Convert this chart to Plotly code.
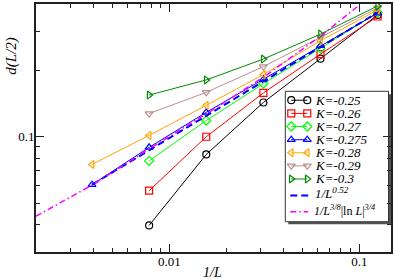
import math
import plotly.graph_objects as go

# ---------------- data ----------------
inv_L = [1/256, 1/128, 1/64, 1/32, 1/16, 1/8]

k_labels = ["K=-0.25", "K=-0.26", "K=-0.27", "K=-0.275", "K=-0.28", "K=-0.29", "K=-0.3"]
d_k025 = [None, 0.0396, 0.0831, 0.143, 0.226, 0.357]
d_k026 = [None, 0.0569, 0.100, 0.158, 0.237, 0.351]
d_k027 = [None, 0.0777, 0.1185, 0.174, 0.252, 0.366]
d_k0275 = [0.0606, 0.0895, 0.129, 0.182, 0.259, 0.364]
d_k028 = [0.0749, 0.1014, 0.1388, 0.1915, 0.2725, 0.376]
d_k029 = [None, 0.1274, 0.159, 0.208, 0.283, 0.384]
d_k030 = [None, 0.1545, 0.181, 0.225, 0.292, 0.392]

fit1_x = [1/256, 1/8]
fit1_y = [0.0606, 0.366]
fit2_x = [0.00198, 1/256, 1/128, 1/64, 1/32, 1/16, 0.1]
fit2_y = [0.0436, 0.0603, 0.088, 0.127, 0.186, 0.286, 0.395]

x_ticks = [0.01, 0.1]
x_ticktext = ["0.01", "0.1"]
y_ticks = [0.1]
y_ticktext = ["0.1"]

# ---------------- styling ----------------
W, H = 395, 279
PL, PR, PT, PB = 36, 392, 2, 252   # plot area in pixels
FONT = "Liberation Serif"
AX = "#222222"

colors = ["#000000", "#ff0000", "#00ff00", "#0000ff", "#ffa500", "#bc8f8f", "#008b00"]
symbols = ["circle-open", "square-open", "diamond-open", "triangle-up-open",
           "triangle-left-open", "triangle-down-open", "triangle-right-open"]
series = [d_k025, d_k026, d_k027, d_k0275, d_k028, d_k029, d_k030]

fig = go.Figure()
for lab, ys, c, s in zip(k_labels, series, colors, symbols):
    xs = [x for x, y in zip(inv_L, ys) if y is not None]
    yv = [y for y in ys if y is not None]
    fig.add_trace(go.Scatter(x=xs, y=yv, mode="lines+markers", name=lab,
                             line=dict(color=c, width=1),
                             marker=dict(symbol=s, size=7, color=c, line=dict(color=c, width=1.2)),
                             showlegend=False))

fig.add_trace(go.Scatter(x=fit1_x, y=fit1_y, mode="lines", showlegend=False,
                         line=dict(color="#0000ff", width=2, dash="7px,4px")))
fig.add_trace(go.Scatter(x=fit2_x, y=fit2_y, mode="lines", showlegend=False,
                         line=dict(color="#ff00ff", width=1.5, dash="6px,3px,1.5px,3px")))

# ---------------- hand-made legend (Grace style) ----------------
def fx(px):
    return (px - PL) / (PR - PL)

def fy(py):
    return (PB - py) / (PB - PT)

row_y = [99, 112.3, 125.5, 138.8, 152, 165.2, 178.4]
for lab, c, s, ry in zip(k_labels, colors, symbols, row_y):
    fig.add_trace(go.Scatter(x=[fx(292), fx(308)], y=[fy(ry), fy(ry)], xaxis="x2", yaxis="y2",
                             mode="lines+markers", showlegend=False, hoverinfo="skip",
                             line=dict(color=c, width=1),
                             marker=dict(symbol=s, size=7, color=c, line=dict(color=c, width=1.2))))
    fig.add_annotation(xref="paper", yref="paper", x=fx(315), y=fy(ry), xanchor="left",
                       yanchor="middle", text="<i>" + lab + "</i>", showarrow=False,
                       font=dict(family=FONT, size=13, color="black"), borderpad=0)

fig.add_trace(go.Scatter(x=[fx(291), fx(309)], y=[fy(195), fy(195)], xaxis="x2", yaxis="y2",
                         mode="lines", showlegend=False, hoverinfo="skip",
                         line=dict(color="#0000ff", width=2, dash="7px,4px")))
fig.add_trace(go.Scatter(x=[fx(291), fx(309)], y=[fy(211.5), fy(211.5)], xaxis="x2", yaxis="y2",
                         mode="lines", showlegend=False, hoverinfo="skip",
                         line=dict(color="#ff00ff", width=1.5, dash="6px,3px,1.5px,3px")))
fig.add_annotation(xref="paper", yref="paper", x=fx(315), y=fy(202), xanchor="left",
                   yanchor="bottom", text="<i>1/L</i><sup><i>0.52</i></sup>", showarrow=False,
                   font=dict(family=FONT, size=13, color="black"), borderpad=0)
fig.add_annotation(xref="paper", yref="paper", x=fx(314), y=fy(219), xanchor="left",
                   yanchor="bottom",
                   text="<i>1/L</i><sup><i>3/8</i></sup>|ln <i>L</i>|<sup><i>3/4</i></sup>",
                   showarrow=False, font=dict(family=FONT, size=12, color="black"), borderpad=0)

# legend box + shadow
fig.add_shape(type="rect", xref="paper", yref="paper", layer="below",
              x0=fx(289), x1=fx(392), y0=fy(224), y1=fy(93),
              fillcolor="#555555", line=dict(width=0))
fig.add_shape(type="rect", xref="paper", yref="paper", layer="below",
              x0=fx(286), x1=fx(389.5), y0=fy(221.5), y1=fy(90),
              fillcolor="white", line=dict(color="#333333", width=1))

# axis titles
fig.add_annotation(xref="paper", yref="paper", x=fx(213), y=fy(273), text="<i>1/L</i>",
                   xanchor="center", yanchor="middle", borderpad=0,
                   showarrow=False, font=dict(family=FONT, size=14, color="black"))
fig.add_annotation(xref="paper", yref="paper", x=fx(12), y=fy(54), text="<i>d(L/2)</i>",
                   xanchor="center", yanchor="middle", borderpad=0,
                   textangle=-90, showarrow=False, font=dict(family=FONT, size=15, color="black"))

x_minor = [m * 10 ** e for e in (-3, -2, -1) for m in range(2, 10)]
y_minor = [m * 10 ** e for e in (-2, -1) for m in range(2, 10)]

fig.update_layout(
    width=W, height=H,
    margin=dict(l=PL, r=W - PR, t=PT, b=H - PB),
    paper_bgcolor="white", plot_bgcolor="white",
    showlegend=False,
    xaxis=dict(type="log", range=[math.log10(0.00198), math.log10(0.147)],
               tickvals=x_ticks, ticktext=x_ticktext, ticks="inside", ticklen=8,
               tickwidth=1, tickcolor=AX, showline=True, linewidth=2, linecolor=AX,
               mirror="allticks", showgrid=False, zeroline=False, ticklabelstandoff=-4,
               tickfont=dict(family=FONT, size=13, color="black"),
               minor=dict(tickvals=x_minor, ticks="inside", ticklen=4, tickwidth=1,
                          tickcolor=AX, showgrid=False)),
    yaxis=dict(type="log", range=[math.log10(0.03), math.log10(0.4)],
               tickvals=y_ticks, ticktext=y_ticktext, ticks="inside", ticklen=8,
               tickwidth=1, tickcolor=AX, showline=True, linewidth=2, linecolor=AX,
               mirror="allticks", showgrid=False, zeroline=False, ticklabelstandoff=-3,
               tickfont=dict(family=FONT, size=13, color="black"),
               minor=dict(tickvals=y_minor, ticks="inside", ticklen=4, tickwidth=1,
                          tickcolor=AX, showgrid=False)),
    xaxis2=dict(overlaying="x", range=[0, 1], visible=False, fixedrange=True),
    yaxis2=dict(overlaying="y", range=[0, 1], visible=False, fixedrange=True),
)

fig.write_html("out.html", config={"displayModeBar": False},
               post_script="document.body.style.margin='0px';")
